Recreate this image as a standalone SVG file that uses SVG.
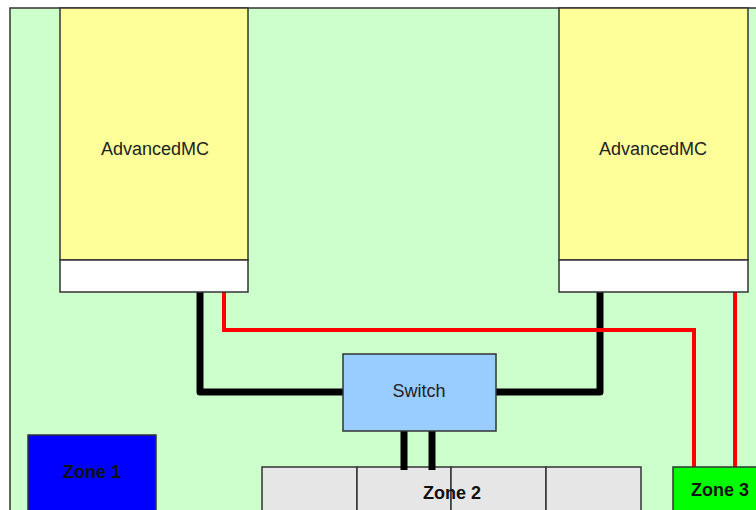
<svg xmlns="http://www.w3.org/2000/svg" width="756" height="510" viewBox="0 0 756 510">
<style>
.box{stroke:#333;stroke-width:1.5}
.lbl{font-family:"Liberation Sans",Arial,sans-serif;font-size:18px;fill:#222;text-anchor:middle}
.zl{font-family:"Liberation Sans",Arial,sans-serif;font-size:18px;font-weight:bold;fill:#111;text-anchor:middle}
.blk{fill:none;stroke:#000;stroke-width:7;stroke-linejoin:round;stroke-linecap:round}
.red{fill:none;stroke:#ff0000;stroke-width:4}
</style>
<rect x="0" y="0" width="756" height="510" fill="#ffffff"/>
<rect id="board" x="10" y="8" width="760" height="520" fill="#ccffcc" class="box"/>
<g id="zone2">
<rect x="262" y="467" width="95" height="60" fill="#e6e6e6" class="box"/>
<rect x="357" y="467" width="94" height="60" fill="#e6e6e6" class="box"/>
<rect x="451" y="467" width="95" height="60" fill="#e6e6e6" class="box"/>
<rect x="546" y="467" width="95" height="60" fill="#e6e6e6" class="box"/>
<text class="zl" x="452" y="499">Zone 2</text>
</g>
<g id="connectors">
<polyline class="blk" points="200,290 200,392 343,392"/>
<polyline class="blk" points="600,290 600,392 496,392"/>
<line x1="404" y1="431" x2="404" y2="470" stroke="#000" stroke-width="7"/>
<line x1="432" y1="431" x2="432" y2="470" stroke="#000" stroke-width="7"/>
<polyline class="red" points="224,290 224,330 694,330 694,468"/>
<polyline class="red" points="735,290 735,468"/>
</g>
<g id="amc1">
<rect x="60" y="8" width="188" height="252" fill="#ffff99" class="box"/>
<rect x="60" y="260" width="188" height="32" fill="#ffffff" class="box"/>
<text class="lbl" x="155" y="155">AdvancedMC</text>
</g>
<g id="amc2">
<rect x="559" y="8" width="189" height="252" fill="#ffff99" class="box"/>
<rect x="559" y="260" width="189" height="32" fill="#ffffff" class="box"/>
<text class="lbl" x="653" y="155">AdvancedMC</text>
</g>
<g id="switch">
<rect x="343" y="354" width="153" height="77" fill="#99ccff" class="box"/>
<text class="lbl" x="419" y="397">Switch</text>
</g>
<g id="zone1">
<rect x="28" y="435" width="128" height="90" fill="#0000ff" class="box"/>
<text class="zl" x="92" y="478">Zone 1</text>
</g>
<g id="zone3">
<rect x="673" y="467" width="100" height="60" fill="#00ff00" class="box"/>
<text class="zl" x="720" y="496">Zone 3</text>
</g>
</svg>
